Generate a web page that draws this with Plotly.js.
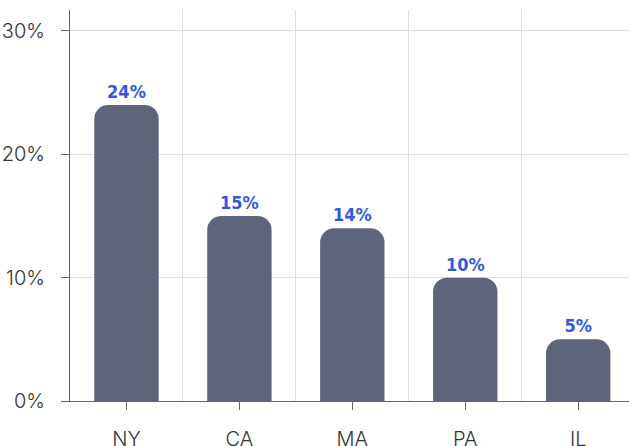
<!DOCTYPE html>
<html>
<head>
<meta charset="utf-8">
<script src="https://cdn.plot.ly/plotly-3.0.1.min.js"></script>
<style>html,body{margin:0;padding:0;background:#fff;}#chart{width:629px;height:446px;}</style>
</head>
<body>
<div id="chart"></div>
<script>
const states = ["NY", "CA", "MA", "PA", "IL"];
const shares = [24, 15, 14, 10, 5];
const yTicks = [0, 10, 20, 30];
const yTickText = ["0%", "10%", "20%", "30%"];
const boundaryTicks = [0.5, 1.5, 2.5, 3.5];

const idx = states.map((_, i) => i);

const bars = {
  type: "bar",
  x: idx,
  y: shares,
  width: 0.57,
  marker: {color: "#5e6479"},
  text: shares.map(v => v + "%"),
  textposition: "outside",
  cliponaxis: false,
  textfont: {family: "Liberation Sans Narrow, DejaVu Sans Condensed, sans-serif", size: 18, color: "#3358e0", weight: 700},
  hoverinfo: "skip"
};
const gridHelper = {
  type: "scatter", x: [], y: [], xaxis: "x2", yaxis: "y", showlegend: false, hoverinfo: "skip"
};

const layout = {
  width: 629, height: 446,
  margin: {l: 70, r: 0, t: 10, b: 45},
  paper_bgcolor: "#fff", plot_bgcolor: "#fff",
  showlegend: false,
  barcornerradius: 14,
  font: {family: "Inter, Roboto, sans-serif", color: "#333"},
  xaxis: {
    range: [-0.5, 4.45],
    tickvals: idx, ticktext: states,
    showgrid: false, zeroline: false,
    showline: true, linecolor: "#666", linewidth: 1,
    ticks: "outside", ticklen: 8, tickcolor: "#666",
    ticklabelstandoff: 12,
    tickfont: {size: 20, color: "#333", weight: 300}
  },
  xaxis2: {
    overlaying: "x", matches: "x",
    range: [-0.5, 4.45],
    tickvals: boundaryTicks, showticklabels: false,
    showgrid: true, gridcolor: "#dedede", gridwidth: 1,
    zeroline: false, showline: false, ticks: ""
  },
  yaxis: {
    range: [0, 31.7],
    tickvals: yTicks, ticktext: yTickText,
    showgrid: true, gridcolor: "#dedede", gridwidth: 1,
    zeroline: false,
    showline: true, linecolor: "#666", linewidth: 1,
    ticks: "outside", ticklen: 8, tickcolor: "#666",
    ticklabelstandoff: 12,
    tickfont: {size: 20, color: "#333", weight: 300}
  }
};

Plotly.newPlot("chart", [gridHelper, bars], layout, {displayModeBar: false, staticPlot: true});
</script>
</body>
</html>
